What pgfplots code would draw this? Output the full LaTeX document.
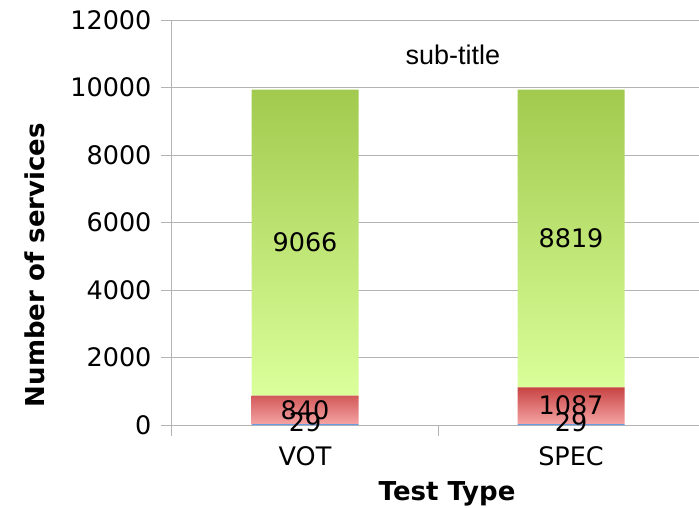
\documentclass[border=0pt]{standalone}
\usepackage{pgfplots}
\pgfplotsset{compat=1.18}
\usepackage{fontspec}
\setmainfont{DejaVu Sans}
\newfontfamily\arialf{Liberation Sans}
\definecolor{gridgray}{HTML}{B3B3B3}
\definecolor{bluebar}{HTML}{6A9BE0}
\definecolor{redtop}{HTML}{C84444}
\definecolor{redbot}{HTML}{F5A3A3}
\definecolor{greentop}{HTML}{A2CA4E}
\definecolor{greenbot}{HTML}{DBFF9B}
\begin{document}
\begin{tikzpicture}[x=1pt,y=1pt]
\begin{axis}[
  at={(0,0)}, anchor=south west,
  scale only axis, width=527pt, height=405pt,
  ybar stacked, bar width=107pt,
  xmin=-0.5, xmax=1.481, ymin=0, ymax=12000,
  ytick={0,2000,...,12000},
  scaled y ticks=false,
  xtick={0,1}, xticklabels={VOT,SPEC},
  minor xtick={-0.5,0.5,1.5},
  axis lines*=left,
  axis line style={gridgray, line width=1pt},
  tick align=outside,
  major tick length=11pt, minor tick length=11pt,
  major x tick style={draw=none},
  minor x tick style={gridgray, line width=1pt},
  major y tick style={gridgray, line width=1pt},
  ymajorgrids, grid style={gridgray, line width=1pt},
  /pgf/number format/assume math mode=true,
  /pgf/number format/1000 sep={},
  tick label style={font=\fontsize{25.5}{30}\selectfont, black},
  yticklabel style={xshift=-6pt},
  xticklabel style={yshift=-7pt},
  xlabel={\bfseries Test Type},
  ylabel={\bfseries Number of services},
  xlabel style={font=\fontsize{26}{30}\selectfont, at={(axis description cs:0.522,0)}, anchor=base, yshift=-75pt},
  ylabel style={font=\fontsize{26}{30}\selectfont, at={(axis description cs:-0.26,0.395)}, anchor=center},
]
\addplot[fill=bluebar, draw=none] coordinates {(0,29) (1,29)};
\addplot[draw=none, top color=redtop, bottom color=redbot] coordinates {(0,840) (1,1087)};
\addplot[draw=none, top color=greentop, bottom color=greenbot] coordinates {(0,9066) (1,8819)};
\coordinate (g0) at (axis cs:0,5402);
\coordinate (g1) at (axis cs:1,5525);
\coordinate (r0) at (axis cs:0,449);
\coordinate (r1) at (axis cs:1,572);
\coordinate (b0) at (axis cs:0,70);
\coordinate (b1) at (axis cs:1,70);
\coordinate (st) at (axis description cs:0.533,0.914);
\end{axis}
\begin{scope}[every node/.style={font=\fontsize{25.5}{30}\selectfont}]
\node at (g0) {9066};
\node at (g1) {8819};
\node at (r0) {840};
\node at (r1) {1087};
\node at (b0) {29};
\node at (b1) {29};
\end{scope}
\node[font=\arialf\fontsize{27}{32}\selectfont] at (st) {sub-title};
\pgfresetboundingbox
\path (-172,-82) rectangle (527,425);
\end{tikzpicture}
\end{document}
